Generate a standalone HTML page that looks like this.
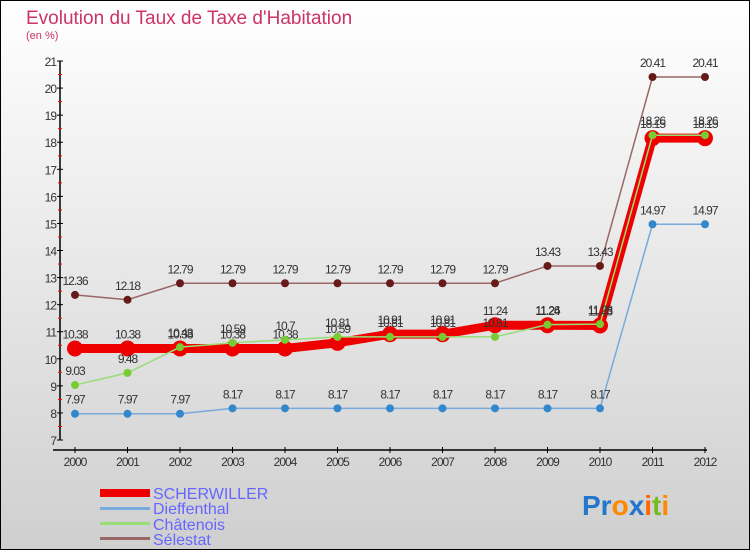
<!DOCTYPE html>
<html><head><meta charset="utf-8"><style>
body{margin:0}
#c{width:750px;height:550px;position:relative;overflow:hidden;font-family:"Liberation Sans",sans-serif}
</style></head><body>
<div id="c">
<svg id="s" width="750" height="550" xmlns="http://www.w3.org/2000/svg">
<defs><linearGradient id="bg" x1="0" y1="0" x2="0" y2="1"><stop offset="0" stop-color="#ffffff"/><stop offset="1" stop-color="#cfcfcf"/></linearGradient></defs>
<rect x="0.5" y="0.5" width="749" height="549" fill="url(#bg)" stroke="#000"/>
<text x="26" y="24" font-size="19" fill="#cc3366">Evolution du Taux de Taxe d'Habitation</text>
<text x="26" y="39" font-size="11" fill="#cc3366">(en %)</text>
<g id="axes"></g><g id="series"></g>
<g>
<rect x="100" y="489" width="50" height="8" fill="#ee0000"/>
<text x="153" y="499" font-size="16" fill="#6666ff">SCHERWILLER</text>
<rect x="100" y="507" width="50" height="3" fill="#77aadd"/>
<text x="153" y="514" font-size="16" fill="#6666ff">Dieffenthal</text>
<rect x="100" y="522" width="50" height="3" fill="#99dd77"/>
<text x="153" y="530" font-size="16" fill="#6666ff">Châtenois</text>
<rect x="100" y="537" width="50" height="3" fill="#996666"/>
<text x="153" y="545" font-size="16" fill="#6666ff">Sélestat</text>
</g>
<g font-size="28" font-weight="bold">
<text x="582" y="515"><tspan fill="#2277cc">Pr</tspan><tspan fill="#ff8800">o</tspan><tspan fill="#2277cc">x</tspan><tspan fill="#ff6600">i</tspan><tspan fill="#77bb22">t</tspan><tspan fill="#ff8800">i</tspan></text>
</g>
</svg></div>
<script>
const years=[2000,2001,2002,2003,2004,2005,2006,2007,2008,2009,2010,2011,2012];
const scherwiller=[10.38,10.38,10.38,10.38,10.38,10.59,10.91,10.91,11.24,11.24,11.23,18.15,18.15];
const dieffenthal=[7.97,7.97,7.97,8.17,8.17,8.17,8.17,8.17,8.17,8.17,8.17,14.97,14.97];
const chatenois=[9.03,9.48,10.43,10.59,10.7,10.81,10.81,10.81,10.81,11.26,11.28,18.26,18.26];
const selestat=[12.36,12.18,12.79,12.79,12.79,12.79,12.79,12.79,12.79,13.43,13.43,20.41,20.41];
const yTicks=[7,8,9,10,11,12,13,14,15,16,17,18,19,20,21];
const NS="http://www.w3.org/2000/svg";
function X(i){return 75+i*52.5;}
function Y(v){return 440-(v-7)*27.07;}
function el(t,a,p){const e=document.createElementNS(NS,t);for(const k in a)e.setAttribute(k,a[k]);p.appendChild(e);return e;}
const ax=document.getElementById('axes');
let l=el('line',{x1:60,y1:Y(21),x2:60,y2:Y(7),stroke:'#000','stroke-width':1.5},ax);


l=el('line',{x1:53,y1:450,x2:707,y2:450,stroke:'#000','stroke-width':1.5},ax);


yTicks.forEach(v=>{
 el('line',{x1:57,y1:Y(v),x2:63,y2:Y(v),stroke:'#000'},ax);
 if(v<21)el('line',{x1:58,y1:Y(v+0.5),x2:62,y2:Y(v+0.5),stroke:'#ff0000'},ax);
 const t=el('text',{x:56,y:Y(v)+5,'font-size':12,'text-anchor':'end',fill:'#333','letter-spacing':'-1'},ax);
 t.textContent=v;
 
 
});
years.forEach((y,i)=>{
 el('line',{x1:X(i),y1:447,x2:X(i),y2:453,stroke:'#000'},ax);
 const t=el('text',{x:X(i),y:466,'font-size':12,'text-anchor':'middle',fill:'#333','letter-spacing':'-1'},ax);
 t.textContent=y;
 
 
});
const sg=document.getElementById('series');
function draw(name,vals,color,w,r,dot){
 const g=el('g',{},sg);
 
 
 el('polyline',{points:vals.map((v,i)=>X(i)+','+Y(v)).join(' '),fill:'none',stroke:color,'stroke-width':w},g);
 vals.forEach((v,i)=>{
  const c=el('circle',{cx:X(i),cy:Y(v),r:r,fill:dot},g);
  
  
  const t=el('text',{x:X(i),y:Y(v)-10,'font-size':12,'text-anchor':'middle',fill:'#333','letter-spacing':'-1'},g);
  t.textContent=v;
  
  
 });
}
draw('selestat',selestat,'#996666',1.5,4,'#661a1a');
draw('dieffenthal',dieffenthal,'#77aadd',1.5,4,'#3388cc');
draw('scherwiller',scherwiller,'#ee0000',9,8,'#ee0000');
draw('chatenois',chatenois,'#99dd77',1.5,4,'#77cc33');
</script>
</body></html>
